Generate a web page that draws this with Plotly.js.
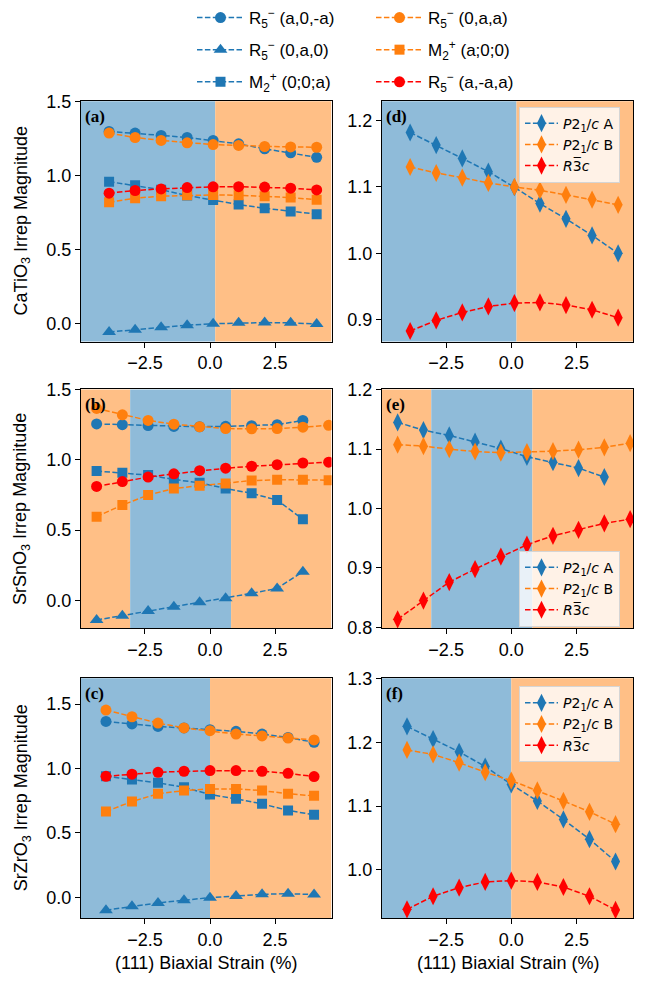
<!DOCTYPE html>
<html><head><meta charset="utf-8">
<script src="https://cdn.plot.ly/plotly-3.0.1.min.js"></script>
<style>html,body{margin:0;padding:0;background:#fff;}</style>
</head><body>
<div id="chart" style="width:657px;height:981px;"></div>
<script>
// ---------- data ----------
const xCa = [-3.88,-2.88,-1.88,-0.88,0.12,1.1,2.1,3.1,4.1];
const xSn = [-4.36,-3.37,-2.38,-1.39,-0.4,0.6,1.6,2.58,3.57,4.56];
const xZr = [-4,-3,-2,-1,0,1,2,3,4];

const caR5_a0ma = [1.300,1.289,1.273,1.259,1.239,1.216,1.182,1.155,1.125];
const caR5_0a0  = [-0.058,-0.042,-0.025,-0.012,-0.002,0.004,0.006,0.004,-0.004];
const caM2_00a  = [0.96,0.935,0.905,0.866,0.835,0.805,0.78,0.758,0.74];
const caR5_0aa  = [1.289,1.259,1.239,1.223,1.211,1.205,1.198,1.195,1.193];
const caM2_a00  = [0.82,0.848,0.862,0.868,0.87,0.868,0.862,0.852,0.838];
const caR5_ama  = [0.882,0.9,0.911,0.92,0.925,0.926,0.923,0.916,0.904];
const caP21cA = [1.182,1.163,1.143,1.123,1.0995,1.075,1.052,1.027,1.0];
const caP21cB = [1.13,1.121,1.114,1.106,1.1,1.095,1.088,1.081,1.073];
const caR3c   = [0.883,0.899,0.911,0.92,0.925,0.926,0.922,0.915,0.903];

const snR5_a0ma = [1.255,1.250,1.243,1.237,1.235,1.238,1.242,1.250,1.280];
const snR5_0a0  = [-0.14,-0.109,-0.076,-0.045,-0.014,0.014,0.05,0.085,0.204];
const snM2_00a  = [0.92,0.908,0.891,0.86,0.836,0.796,0.761,0.713,0.576];
const snR5_0aa  = [1.365,1.32,1.28,1.253,1.235,1.222,1.22,1.222,1.232,1.245];
const snM2_a00  = [0.595,0.678,0.749,0.796,0.815,0.832,0.852,0.858,0.858,0.855];
const snR5_ama  = [0.81,0.845,0.877,0.9,0.922,0.94,0.954,0.965,0.977,0.983];
const snP21cA = [1.145,1.132,1.123,1.1125,1.101,1.087,1.078,1.068,1.053];
const snP21cB = [1.1075,1.105,1.1,1.096,1.094,1.095,1.0965,1.099,1.103,1.11];
const snR3c   = [0.8134,0.845,0.876,0.898,0.919,0.939,0.954,0.964,0.975,0.982];

const zrR5_a0ma = [1.365,1.345,1.326,1.314,1.301,1.288,1.267,1.24,1.203];
const zrR5_0a0  = [-0.1,-0.07,-0.044,-0.023,-0.003,0.01,0.023,0.028,0.021];
const zrM2_00a  = [0.939,0.914,0.888,0.854,0.797,0.764,0.725,0.674,0.640];
const zrR5_0aa  = [1.453,1.401,1.352,1.314,1.293,1.267,1.252,1.236,1.221];
const zrM2_a00  = [0.666,0.743,0.803,0.828,0.841,0.841,0.828,0.803,0.787];
const zrR5_ama  = [0.939,0.955,0.970,0.978,0.983,0.983,0.978,0.962,0.937];
const zrP21cA = [1.225,1.205,1.185,1.162,1.134,1.108,1.079,1.048,1.013];
const zrP21cB = [1.188,1.181,1.168,1.153,1.140,1.1245,1.108,1.091,1.0716];
const zrR3c   = [0.938,0.9585,0.972,0.981,0.983,0.981,0.973,0.9585,0.937];

// phase boundaries (strain %) and phase sequence
const caEdges = [0.2];        const caSeq = ['A','B'];
const snEdges = [-3.07, 0.81]; const snSeq = ['B','A','B'];
const zrEdges = [0];          const zrSeq = ['A','B'];

const irrepNames = ['R<sub>5</sub><sup>−</sup> (a,0,-a)','R<sub>5</sub><sup>−</sup> (0,a,0)','M<sub>2</sub><sup>+</sup> (0;0;a)',
                    'R<sub>5</sub><sup>−</sup> (0,a,a)','M<sub>2</sub><sup>+</sup> (a;0;0)','R<sub>5</sub><sup>−</sup> (a,-a,a)'];
const phaseNames = ['<i>P</i>2<sub>1</sub>/<i>c</i> A','<i>P</i>2<sub>1</sub>/<i>c</i> B','<i>R</i>3\u0305<i>c</i>'];
const materials = ['CaTiO<sub>3</sub> Irrep Magnitude','SrSnO<sub>3</sub> Irrep Magnitude','SrZrO<sub>3</sub> Irrep Magnitude'];
const panelLabels = ['(a)','(b)','(c)','(d)','(e)','(f)'];

// ---------- styling ----------
const BLUE='#1f77b4', ORANGE='#ff7f0e', RED='#ff0000';
const SHADE = {A:'#8fbbd9', B:'#ffbf86'};
const XR = [-4.96, 4.67];
const leftRanges  = [[-0.123,1.504],[-0.2,1.5005],[-0.163,1.70]];
const rightRanges = [[0.867,1.229],[0.798,1.2005],[0.924,1.3005]];
const W=657, H=981;
const rowsPx = [[97.7,339],[387,627],[677,918]];
const leftPx = [81,331.5], rightPx=[382,633];
const FONT = 'Liberation Sans';
const FS = 18;

const irrepStyle = [
  {c:BLUE, s:'circle', z:11}, {c:BLUE, s:'triangle-up', z:12}, {c:BLUE, s:'square', z:10},
  {c:ORANGE, s:'circle', z:11}, {c:ORANGE, s:'square', z:10}, {c:RED, s:'circle', z:11}
];
const phaseColors = [BLUE, ORANGE, RED];

const mats = [
  {x:xCa, irr:[caR5_a0ma,caR5_0a0,caM2_00a,caR5_0aa,caM2_a00,caR5_ama], ph:[caP21cA,caP21cB,caR3c], edges:caEdges, seq:caSeq},
  {x:xSn, irr:[snR5_a0ma,snR5_0a0,snM2_00a,snR5_0aa,snM2_a00,snR5_ama], ph:[snP21cA,snP21cB,snR3c], edges:snEdges, seq:snSeq},
  {x:xZr, irr:[zrR5_a0ma,zrR5_0a0,zrM2_00a,zrR5_0aa,zrM2_a00,zrR5_ama], ph:[zrP21cA,zrP21cB,zrR3c], edges:zrEdges, seq:zrSeq}
];

const traces=[]; const shapes=[]; const annotations=[];
const layout = {
  width:W, height:H, margin:{l:0,r:0,t:0,b:0}, paper_bgcolor:'#fff', plot_bgcolor:'#fff',
  font:{family:FONT, size:FS, color:'#000'}, showlegend:true
};
const dash = '5.5px,2.4px';

function axisBase(range){
  return {range:range, showgrid:false, zeroline:false, showline:true, mirror:true, linecolor:'#000', linewidth:1,
    ticks:'outside', ticklen:5, tickwidth:1, tickcolor:'#000', tickfont:{family:FONT,size:FS,color:'#000'}, automargin:false};
}

for(let r=0;r<3;r++){
  const m = mats[r];
  const yd = [1-rowsPx[r][1]/H, 1-rowsPx[r][0]/H];
  const li = 2*r+1, ri = 2*r+2;
  const xl = 'x'+(li===1?'':li), yl='y'+(li===1?'':li);
  const xr = 'x'+ri, yr='y'+ri;
  layout['xaxis'+(li===1?'':li)] = Object.assign(axisBase(XR), {domain:[leftPx[0]/W,leftPx[1]/W], anchor:yl, tickvals:[-2.5,0,2.5], ticktext:['−2.5','0.0','2.5']});
  layout['yaxis'+(li===1?'':li)] = Object.assign(axisBase(leftRanges[r]), {domain:yd, anchor:xl, dtick:0.5, tick0:0, tickformat:'.1f'});
  layout['xaxis'+ri] = Object.assign(axisBase(XR), {domain:[rightPx[0]/W,rightPx[1]/W], anchor:yr, tickvals:[-2.5,0,2.5], ticktext:['−2.5','0.0','2.5']});
  layout['yaxis'+ri] = Object.assign(axisBase(rightRanges[r]), {domain:yd, anchor:xr, dtick:0.1, tick0:0, tickformat:'.1f'});

  const bounds = [XR[0], ...m.edges, XR[1]];
  for(const [ax,ay] of [[xl,yl],[xr,yr]]){
    for(let k=0;k<m.seq.length;k++){
      shapes.push({type:'rect', xref:ax, yref:ay+' domain', x0:bounds[k], x1:bounds[k+1], y0:0, y1:1,
        fillcolor:SHADE[m.seq[k]], line:{width:0}, layer:'below'});
    }
  }
  for(let k=0;k<6;k++){
    const y = m.irr[k];
    const st = irrepStyle[k];
    traces.push({type:'scatter', mode:'lines+markers', x:m.x.slice(0,y.length), y:y, xaxis:xl, yaxis:yl,
      name:irrepNames[k], showlegend:r===0, legend: k<3?'legend':'legend2', legendgroup:'g'+k,
      line:{color:st.c, width:1.5, dash:dash}, marker:{symbol:st.s, size:st.z, color:st.c}, cliponaxis:true});
  }
  for(let k=0;k<3;k++){
    const y = m.ph[k];
    traces.push({type:'scatter', mode:'lines+markers', x:m.x.slice(0,y.length), y:y, xaxis:xr, yaxis:yr,
      name:phaseNames[k], showlegend:true, legend:'legend'+(3+r), legendgroup:'p'+r+k,
      line:{color:phaseColors[k], width:1.5, dash:dash}, marker:{symbol:'diamond-tall', size:13, color:phaseColors[k]}, cliponaxis:true});
  }
  annotations.push({xref:xl+' domain', yref:yl+' domain', x:0.008, y:0.985, xanchor:'left', yanchor:'top', showarrow:false,
    text:'<b>'+panelLabels[r]+'</b>', font:{family:'Liberation Serif', size:17, color:'#000'}});
  annotations.push({xref:xr+' domain', yref:yr+' domain', x:0.008, y:0.985, xanchor:'left', yanchor:'top', showarrow:false,
    text:'<b>'+panelLabels[r+3]+'</b>', font:{family:'Liberation Serif', size:17, color:'#000'}});
  annotations.push({xref:'paper', yref:'paper', x:22/W, y:(yd[0]+yd[1])/2, xanchor:'center', yanchor:'middle', showarrow:false,
    textangle:-90, text:materials[r], font:{family:FONT, size:FS, color:'#000'}});
}
for(const px of [(leftPx[0]+leftPx[1])/2, (rightPx[0]+rightPx[1])/2]){
  annotations.push({xref:'paper', yref:'paper', x:px/W, y:1-963/H, xanchor:'center', yanchor:'middle', showarrow:false,
    text:'(111) Biaxial Strain (%)', font:{family:FONT, size:FS, color:'#000'}});
}

const topLeg = {orientation:'v', xanchor:'left', yanchor:'top', y:1+4/H, bgcolor:'rgba(0,0,0,0)', borderwidth:0,
  font:{family:FONT,size:17,color:'#000'}, tracegroupgap:7, itemwidth:47};
layout.legend  = Object.assign({}, topLeg, {x:192/W});
layout.legend2 = Object.assign({}, topLeg, {x:371/W});
const panLeg = {orientation:'v', xanchor:'left', yanchor:'top', bgcolor:'rgba(255,255,255,0.8)', bordercolor:'#d5d5d5', borderwidth:1,
  font:{family:'DejaVu Sans',size:14,color:'#000'}, tracegroupgap:0, itemwidth:33};
layout.legend3 = Object.assign({}, panLeg, {x:519/W, y:1-103/H});
layout.legend4 = Object.assign({}, panLeg, {x:519/W, y:1-549/H});
layout.legend5 = Object.assign({}, panLeg, {x:519/W, y:1-685/H});
layout.shapes = shapes;
layout.annotations = annotations;

Plotly.newPlot('chart', traces, layout, {displayModeBar:false, staticPlot:true});
</script>
</body></html>
